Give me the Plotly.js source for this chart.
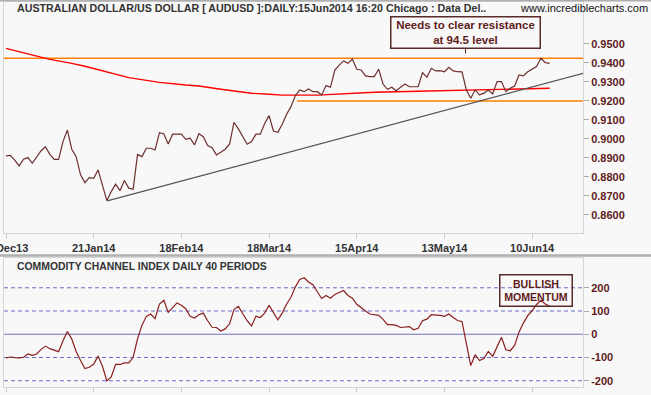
<!DOCTYPE html>
<html><head><meta charset="utf-8">
<script src="https://cdn.plot.ly/plotly-3.0.1.min.js"></script>
<style>html,body{margin:0;padding:0;background:#f8f8f8;} #chart{width:651px;height:395px;}</style>
</head><body><div id="chart"></div>
<script>
// ---- data ----
const tickIdx = [0, 20, 40, 60, 80, 100, 120];
const tickLabels = ["24Dec13", "21Jan14", "18Feb14", "18Mar14", "15Apr14", "13May14", "10Jun14"];

const price = [
 0.8911,0.8914,0.8889,0.8858,0.8893,0.8902,0.8872,0.8902,0.8938,0.8959,
 0.8919,0.8893,0.8893,0.8986,0.9047,0.8946,0.8907,0.8811,0.8770,0.8796,
 0.8793,0.8837,0.8758,0.8675,0.8723,0.8762,0.8728,0.8781,0.8741,0.8735,
 0.8919,0.8907,0.8951,0.8951,0.8942,0.9033,0.9026,0.8974,0.9025,0.9025,
 0.9025,0.8998,0.9004,0.8968,0.9028,0.9012,0.8965,0.8954,0.8916,0.8930,
 0.8946,0.8974,0.9088,0.9053,0.9016,0.8972,0.8986,0.9025,0.9025,0.9081,
 0.9123,0.9042,0.9035,0.9077,0.9130,0.9170,0.9228,0.9258,0.9249,0.9263,
 0.9249,0.9249,0.9232,0.9281,0.9272,0.9363,0.9389,0.9411,0.9398,0.9421,
 0.9367,0.9363,0.9332,0.9328,0.9328,0.9367,0.9289,0.9261,0.9272,0.9254,
 0.9272,0.9289,0.9275,0.9275,0.9275,0.9349,0.9325,0.9372,0.9358,0.9360,
 0.9354,0.9377,0.9358,0.9354,0.9353,0.9258,0.9214,0.9258,0.9232,0.9241,
 0.9258,0.9237,0.9302,0.9302,0.9249,0.9267,0.9279,0.9337,0.9332,0.9354,
 0.9367,0.9381,0.9425,0.9402,0.9398
];

const cci = [
 -102,-98,-101,-102,-99,-85,-91,-85,-65,-51,
 -62,-68,-75,-28,12,-21,-74,-113,-148,-142,
 -128,-94,-138,-201,-184,-130,-130,-123,-123,-99,
 -20,38,77,87,67,130,146,94,113,135,
 125,110,77,70,84,91,58,30,29,14,
 23,45,106,120,88,58,36,78,72,91,
 125,96,62,91,130,159,204,236,243,225,
 213,183,154,167,155,171,181,188,167,155,
 129,113,100,87,84,81,64,41,41,38,
 29,30,33,19,26,58,65,84,84,81,
 77,87,72,59,55,-34,-135,-88,-113,-105,
 -74,-95,-52,-13,-67,-71,-48,9,48,80,
 101,128,146,130,120
];

const maIdx = [0, 10, 15, 18, 28, 35, 41, 44, 49, 53, 56, 60, 63, 71, 75, 78, 84, 94, 99, 106, 115, 124];
const maVal = [0.9477,0.9419,0.9398,0.9383,0.9323,0.9298,0.9284,0.9279,0.9262,0.9249,0.9241,0.9235,0.9231,0.9231,0.9235,0.9241,0.9246,0.9251,0.9254,0.9257,0.9262,0.9267];

const resistanceLevel = 0.9425;
const supportLevel = 0.9200;
const supportStartIdx = 66.4;
const trendIdx = [23.1, 132];
const trendVal = [0.8674, 0.9348];
const resistanceTargetIdx = 104.8;
const resistanceTarget = 0.945;

const priceTicks = [0.86,0.87,0.88,0.89,0.90,0.91,0.92,0.93,0.94,0.95];
const cciTicks = [-200, -100, 0, 100, 200];
const cciTickLabels = ["-200", "-100", "0", "100", "200"];
const cciDashedLevels = [-200, -100, 100, 200];
const bullishIdx = 120.9, bullishCci = 187.5;

// ---- chart ----
const days = price.map((_, i) => i);
const xRange = [-0.456, 131.6];
const FONT = "Liberation Sans, Arial, sans-serif";
const MAROON = "#5e1c1c";

const traces = [
  {x: [xRange[0] - 2, xRange[1] + 2], y: [resistanceLevel, resistanceLevel], mode: "lines",
   line: {color: "#ff8000", width: 1.5}, xaxis: "x", yaxis: "y", hoverinfo: "skip"},
  {x: [supportStartIdx, xRange[1] + 2], y: [supportLevel, supportLevel], mode: "lines",
   line: {color: "#ff8000", width: 1.5}, xaxis: "x", yaxis: "y", hoverinfo: "skip"},
  {x: maIdx, y: maVal, mode: "lines", line: {color: "#ff0000", width: 1.4}, xaxis: "x", yaxis: "y"},
  {x: trendIdx, y: trendVal, mode: "lines", line: {color: "#555555", width: 1.2}, xaxis: "x", yaxis: "y"},
  {x: days, y: price, mode: "lines", line: {color: "#6e2f2f", width: 1.2}, xaxis: "x", yaxis: "y"},
  {x: days, y: cci, mode: "lines", line: {color: "#8b1f1f", width: 1.2}, xaxis: "x2", yaxis: "y2"}
];

const axisFont = {family: FONT, size: 11, color: "#333333", weight: "bold"};
const yFont = {family: FONT, size: 11, color: MAROON, weight: "bold"};

const shapes = [
  {type: "line", xref: "paper", yref: "paper", x0: -0.01, x1: 1.12, y0: 0.3416, y1: 0.3416,
   line: {color: "#b0b0b0", width: 2.5}},
  {type: "line", xref: "paper", yref: "paper", x0: -0.01, x1: 1.12, y0: 1.004, y1: 1.004,
   line: {color: "#b0b0b0", width: 2}},
  {type: "line", xref: "x2 domain", yref: "y2", x0: 0, x1: 1, y0: 0, y1: 0, layer: "below",
   line: {color: "#7070c0", width: 1}}
];
cciDashedLevels.forEach(v => shapes.push({type: "line", xref: "x2 domain", yref: "y2", x0: 0, x1: 1,
  y0: v, y1: v, layer: "below", line: {color: "#6a6ac8", width: 1, dash: "4px,3px"}}));

const layout = {
  width: 651, height: 395,
  margin: {l: 4, r: 68, t: 2, b: 8},
  paper_bgcolor: "#f8f8f8", plot_bgcolor: "#f8f8f8",
  showlegend: false,
  xaxis: {domain: [0, 1], anchor: "y", range: xRange, tickvals: tickIdx, ticktext: tickLabels,
    ticks: "outside", ticklen: 5, tickcolor: "#cccccc", showgrid: false, zeroline: false,
    ticklabeloverflow: "allow",
    showline: true, mirror: true, linecolor: "#d6d6d6", tickfont: axisFont},
  yaxis: {domain: [0.4, 1], anchor: "x", side: "right", range: [0.8505, 0.9721],
    tickvals: priceTicks, tickformat: ".4f", ticks: "outside", ticklen: 5, tickcolor: "#aaaaaa",
    showgrid: false, zeroline: false, showline: true, mirror: true, linecolor: "#d6d6d6", tickfont: yFont},
  xaxis2: {domain: [0, 1], anchor: "y2", matches: "x", range: xRange, tickvals: tickIdx,
    showticklabels: false, ticks: "outside", ticklen: 4, tickcolor: "#cccccc", showgrid: false,
    zeroline: false, showline: true, mirror: true, linecolor: "#d6d6d6"},
  yaxis2: {domain: [0, 0.335], anchor: "x2", side: "right", range: [-227, 328],
    tickvals: cciTicks, ticktext: cciTickLabels, ticks: "outside", ticklen: 5, tickcolor: "#aaaaaa",
    showgrid: false, zeroline: false,
    showline: true, mirror: true, linecolor: "#d6d6d6", tickfont: yFont},
  shapes: shapes,
  annotations: [
    {xref: "paper", yref: "paper", x: 0.019, y: 0.9857, xanchor: "left", yanchor: "middle", showarrow: false,
     text: "AUSTRALIAN DOLLAR/US DOLLAR [ AUDUSD ]:DAILY:15Jun2014 16:20 Chicago : Data Del..",
     font: {family: FONT, size: 10.7, color: "#333333", weight: "bold"}},
    {xref: "paper", yref: "paper", x: 0.8877, y: 0.9857, xanchor: "left", yanchor: "middle", showarrow: false,
     text: "www.incrediblecharts.com", font: {family: FONT, size: 11, color: "#111111"}},
    {xref: "paper", yref: "paper", x: 0.019, y: 0.3117, xanchor: "left", yanchor: "middle", showarrow: false,
     text: "COMMODITY CHANNEL INDEX DAILY 40 PERIODS",
     font: {family: FONT, size: 10.4, color: "#333333", weight: "bold"}},
    {xref: "x", yref: "y", x: resistanceTargetIdx, y: resistanceTarget, ax: 0, ay: -20.5,
     showarrow: true, arrowhead: 0, arrowwidth: 1, arrowcolor: "#5a2a2a", standoff: 0,
     text: "Needs to clear resistance<br>at 94.5 level", align: "center",
     bordercolor: "#5a2a2a", borderwidth: 1.5, borderpad: 1, bgcolor: "#f8f8f8", width: 146, height: 28,
     font: {family: FONT, size: 11.5, color: MAROON, weight: "bold"}},
    {xref: "x2", yref: "y2", x: bullishIdx, y: bullishCci, showarrow: false,
     text: "BULLISH<br>MOMENTUM", align: "center",
     bordercolor: "#5a2a2a", borderwidth: 1.5, borderpad: 1, bgcolor: "rgba(0,0,0,0)", width: 69, height: 28,
     font: {family: FONT, size: 10.6, color: MAROON, weight: "bold"}}
  ]
};

Plotly.newPlot("chart", traces, layout, {staticPlot: true, displayModeBar: false});
</script>
</body></html>
